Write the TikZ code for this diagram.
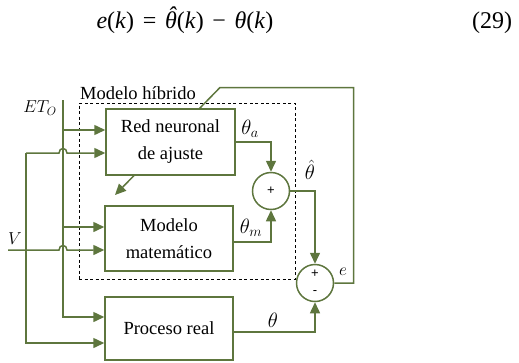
\documentclass[tikz,border=0pt]{standalone}
\usepackage{fontspec}
\setmainfont{Liberation Serif}
\newfontfamily\signfont{Liberation Sans}
\usetikzlibrary{arrows.meta,calc}
\definecolor{lg}{RGB}{94,118,62}
\newcommand\thetahatit{\leavevmode\hbox{\ooalign{\textit{θ}\cr\hidewidth\kern0.12em\raisebox{0.22em}{\textit{ˆ}}\hidewidth\cr}}}
\newcommand\eqsp{\hspace{0.36em}}
\begin{document}
\begin{tikzpicture}[x=1pt,y=-1pt,
  conn/.style={draw=lg,line width=1.5pt},
  arr/.style={conn,-{Triangle[length=11pt,width=10pt]}},
  blk/.style={draw=lg,line width=1.5pt,fill=white,align=center,inner sep=0pt,
    font=\fontsize{18.5}{27}\selectfont},
  sumc/.style={circle,draw=lg,line width=1.5pt,fill=white,minimum size=37pt,inner sep=0pt},
  sgn/.style={font=\signfont\fontsize{13}{13}\selectfont,inner sep=0pt},
  lbl/.style={font=\fontsize{18}{20}\selectfont,inner sep=0pt},
  tlbl/.style={font=\fontsize{22}{24}\selectfont,inner sep=0pt},
  txt/.style={font=\fontsize{18.5}{22}\selectfont,inner sep=0pt}]
\useasboundingbox (0,0) rectangle (519,362);

% equation
\node[font=\fontsize{24}{26}\selectfont,inner sep=0pt] (eq) at (185,23)
  {\textit{e}(\textit{k})\eqsp=\eqsp\thetahatit(\textit{k})\eqsp−\eqsp\textit{θ}(\textit{k})};
\node[font=\fontsize{24}{26}\selectfont,inner sep=0pt] (eqn) at (492,23) {(29)};

% hybrid model frame
\node[draw,dashed,line width=0.9pt,dash pattern=on 3pt off 2.5pt,
  minimum width=216pt,minimum height=176pt,inner sep=0pt] (hyb) at (187,191) {};
\node[txt] (hybl) at (138,93) {Modelo híbrido};

% coordinates
\coordinate (etT) at (63,100);
\coordinate (etB) at (63,317);
\coordinate (j1) at (63,130);
\coordinate (j2) at (63,227);
\coordinate (vin) at (8,250);
\coordinate (vtop) at (26,153);
\coordinate (vbot) at (26,343);
\coordinate (fb1) at (353.5,87.5);
\coordinate (fb2) at (220,87.5);
\coordinate (fbE) at (115,195);
\coordinate (mo) at (233,242);
\coordinate (po) at (233,332);

% feedback line (behind the network block)
\node[sumc] (s2) at (315,283) {};
\draw[arr] (s2.east) -| (fb1) -- (fb2) -- (fbE);

% blocks
\node[blk,minimum width=129pt,minimum height=66pt] (rn) at (170.5,142) {Red neuronal\\de ajuste};
\node[blk,minimum width=128pt,minimum height=65pt] (mm) at (169,238.5) {Modelo\\matemático};
\node[blk,minimum width=128pt,minimum height=63pt] (pr) at (169,328.5) {Proceso real};
\node[sumc] (s1) at (271,191) {};
\node[sgn] at (s1) {+};
\node[sgn] at ($(s2)+(0,-9)$) {+};
\node[sgn] at ($(s2)+(0,10)$) {-};

% ET_O input
\draw[arr] (etT) |- (pr.west |- etB);
\draw[arr] (j1) -- (rn.west |- j1);
\draw[arr] (j2) -- (mm.west |- j2);
\node[lbl] (etl) at (40,108) {$ET_O$};

% V input
\draw[arr] (vin) -- (59,250) .. controls (59,244) and (67,244) .. (67,250) -- (mm.west |- vin);
\draw[arr] (vtop) -- (59,153) .. controls (59,147) and (67,147) .. (67,153) -- (rn.west |- vtop);
\draw[arr] (vtop) |- (pr.west |- vbot);
\node[lbl] (vl) at (15,239) {$V$};

% outputs
\draw[arr] (rn.east) -| (s1.north);
\draw[arr] (mo) -| (s1.south);
\draw[arr] (s1.east) -| (s2.north);
\draw[arr] (po) -| (s2.south);

\node[tlbl] at (250,129) {$\theta_a$};
\node[tlbl] at (251,228) {$\theta_m$};
\node[tlbl] at (310,170) {$\hat{\theta}$};
\node[tlbl] at (273,320) {$\theta$};
\node[lbl] at (343,272) {$e$};
\end{tikzpicture}
\end{document}
